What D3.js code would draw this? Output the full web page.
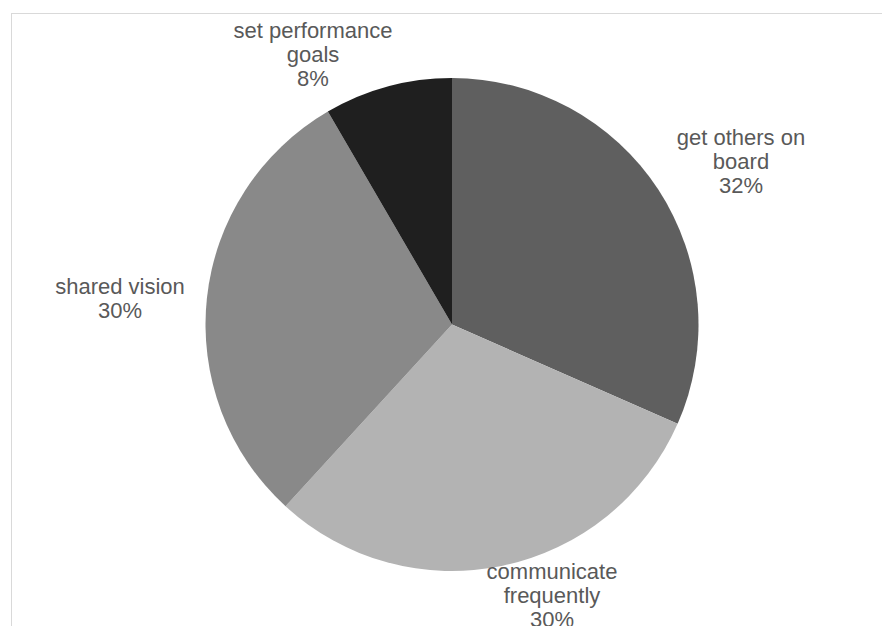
<!DOCTYPE html>
<html>
<head>
<meta charset="utf-8">
<script src="https://cdn.jsdelivr.net/npm/d3@7"></script>
<style>
  html, body { margin: 0; padding: 0; background: #fff; }
  svg { display: block; }
</style>
</head>
<body>
<script>
// ---- data ----
const categories = ["get others on board", "communicate frequently", "shared vision", "set performance goals"];
const values = [31.6, 30.2, 29.8, 8.4];
const labelLines = [["get others on", "board"], ["communicate", "frequently"], ["shared vision"], ["set performance", "goals"]];
const colors = ["#5f5f5f", "#b3b3b3", "#898989", "#1f1f1f"];

// ---- layout ----
const W = 882, H = 626;
const cx = 452, cy = 324.5, R = 246.5;
// label block centre offsets relative to pie centre (layout, not data)
const labelOffsets = [[289, -159], [100, 275], [-332, -22], [-139, -266]];
const lineH = 24;

const svg = d3.select("body").append("svg").attr("width", W).attr("height", H);

// chart area border
svg.append("rect").attr("x", 11.5).attr("y", 13.5).attr("width", W + 10).attr("height", H + 10)
  .attr("fill", "#fff").attr("stroke", "#d9d9d9").attr("stroke-width", 1);

const pie = d3.pie().sort(null).value(d => d)(values);
const arc = d3.arc().innerRadius(0).outerRadius(R);
const color = d3.scaleOrdinal().domain(categories).range(colors);

const g = svg.append("g").attr("transform", `translate(${cx},${cy})`);
g.selectAll("path").data(pie).join("path")
  .attr("d", arc)
  .attr("fill", (d, i) => color(categories[i]));

const total = d3.sum(values);
const fmt = v => Math.round(v / total * 100) + "%";

pie.forEach((d, i) => {
  const lines = labelLines[i].concat([fmt(values[i])]);
  const [ox, oy] = labelOffsets[i];
  const n = lines.length;
  const t = g.append("text")
    .attr("text-anchor", "middle")
    .attr("font-family", "Liberation Sans, Arial, sans-serif")
    .attr("font-size", 22)
    .attr("fill", "#595959");
  lines.forEach((ln, k) => {
    t.append("tspan").attr("x", ox)
      .attr("y", oy + (k - (n - 1) / 2) * lineH + 3)
      .text(ln);
  });
});
</script>
</body>
</html>
